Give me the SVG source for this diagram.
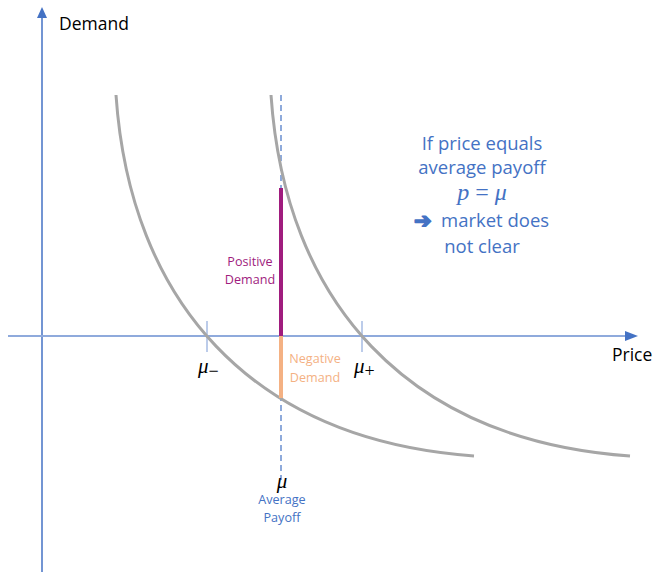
<svg xmlns="http://www.w3.org/2000/svg" width="658" height="572" viewBox="0 0 658 572">
<defs>
<style>
.t{font-family:"Open Sans","Liberation Sans",sans-serif}
.m{font-family:"Liberation Serif","DejaVu Serif",serif;font-style:italic}
.curve{fill:none;stroke:#A6A6A6;stroke-width:3}
.blue{fill:#4472C4}
</style>
</defs>
<rect width="658" height="572" fill="#fff"/>
<g id="axes">
<line x1="42" y1="572" x2="42" y2="16" stroke="#4472C4" stroke-width="1.5"/>
<polygon points="42,7 37,18 47,18" fill="#4472C4"/>
<line x1="8" y1="336" x2="626" y2="336" stroke="#8FAADC" stroke-width="1.8"/>
<polygon points="638,336 625,331 625,341" fill="#4472C4"/>
<line x1="207" y1="321" x2="207" y2="352" stroke="#8FAADC" stroke-width="1.2"/>
<line x1="362" y1="321" x2="362" y2="352" stroke="#8FAADC" stroke-width="1.2"/>
<text class="t" x="59" y="30" font-size="17.5" fill="#000">Demand</text>
<text class="t" x="612" y="361" font-size="17.5" fill="#000">Price</text>
</g>
<g id="connectors">
<line x1="281" y1="95" x2="281" y2="480" stroke="#4472C4" stroke-width="1.2" stroke-dasharray="6,4"/>
</g>
<g id="curve-low">
<path class="curve" d="M116,95 C130,300 250,440 474,456"/>
</g>
<g id="curve-high">
<path class="curve" d="M271,95 C285,300 405,440 630,456"/>
</g>
<g id="positive-demand">
<line x1="281" y1="188" x2="281" y2="336" stroke="#A01C7E" stroke-width="4"/>
<text class="t" x="250" y="266" font-size="12.6" fill="#A01C7E" text-anchor="middle">Positive</text>
<text class="t" x="250" y="284" font-size="12.6" fill="#A01C7E" text-anchor="middle">Demand</text>
</g>
<g id="negative-demand">
<line x1="281" y1="336" x2="281" y2="398" stroke="#F4B183" stroke-width="4"/>
<text class="t" x="315" y="363" font-size="12.6" fill="#F4B183" text-anchor="middle">Negative</text>
<text class="t" x="315" y="382" font-size="12.6" fill="#F4B183" text-anchor="middle">Demand</text>
</g>
<g id="mu-minus">
<text class="m" x="198" y="373" font-size="21" fill="#000">μ<tspan font-style="normal" font-size="18" dy="4">−</tspan></text>
</g>
<g id="mu-plus">
<text class="m" x="354" y="373" font-size="21" fill="#000">μ<tspan font-style="normal" font-size="18" dy="4">+</tspan></text>
</g>
<g id="mu-average">
<text class="m" x="282" y="488" font-size="21" fill="#000" text-anchor="middle">μ</text>
<text class="t blue" x="282" y="504" font-size="12.6" text-anchor="middle">Average</text>
<text class="t blue" x="282" y="522" font-size="12.6" text-anchor="middle">Payoff</text>
</g>
<g id="note">
<text class="t blue" x="482" y="150" font-size="18.5" text-anchor="middle">If price equals</text>
<text class="t blue" x="482" y="174" font-size="18.5" text-anchor="middle">average payoff</text>
<text x="482" y="200" font-size="24" text-anchor="middle" fill="#4472C4" font-family="Liberation Serif, DejaVu Serif, serif"><tspan font-style="italic">p</tspan> = <tspan font-style="italic">μ</tspan></text>
<text x="414" y="228" font-size="21" font-weight="bold" fill="#4472C4" stroke="#4472C4" stroke-width="1.6" stroke-linejoin="round" font-family="DejaVu Sans, sans-serif">➔</text>
<text class="t blue" x="441" y="227" font-size="18.5">market does</text>
<text class="t blue" x="482" y="253" font-size="18.5" text-anchor="middle">not clear</text>
</g>
</svg>
